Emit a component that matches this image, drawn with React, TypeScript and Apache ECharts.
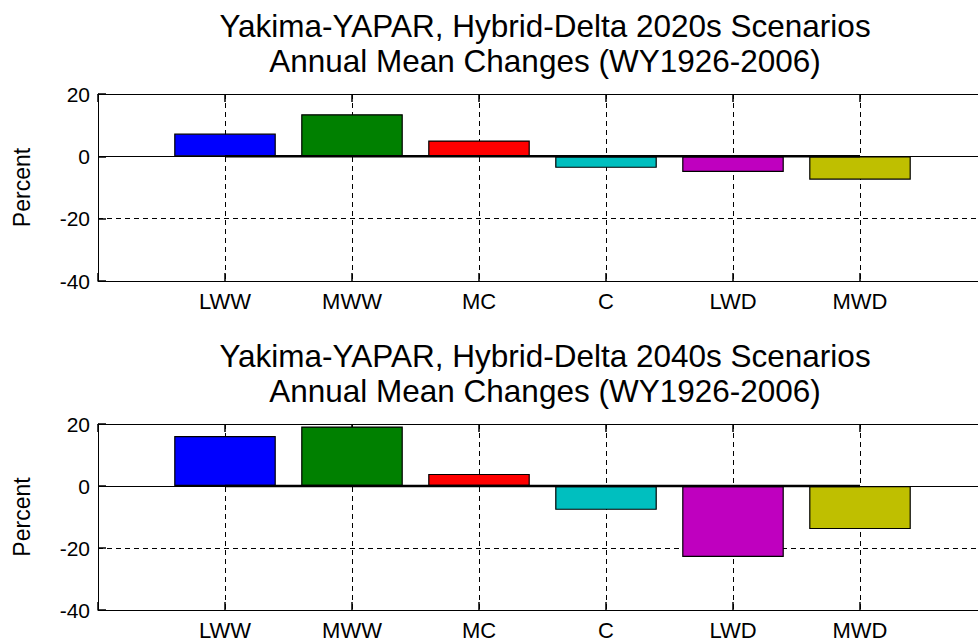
import React, { useEffect, useRef } from "react";
import * as echarts from "echarts";

const categories = ["LWW", "MWW", "MC", "C", "LWD", "MWD"];
const values2020s = [7.3, 13.5, 5.1, -3.7, -5.0, -7.5];
const values2040s = [16.1, 19.2, 3.9, -7.7, -22.9, -13.9];
const barColors = ["#0000ff", "#008000", "#ff0000", "#00bfbf", "#bf00bf", "#bfbf00"];
const titles = [
  "Yakima-YAPAR, Hybrid-Delta 2020s Scenarios\nAnnual Mean Changes (WY1926-2006)",
  "Yakima-YAPAR, Hybrid-Delta 2040s Scenarios\nAnnual Mean Changes (WY1926-2006)",
];
const yTicks = { min: -40, max: 20, interval: 20 };

const W = 978;
const H = 641;
const INNER_W = 1000;
const LEFT = 98;
const RIGHT = 13;
const gridWidth = INNER_W - LEFT - RIGHT;
const XMAX = 7;
const barWidth = (gridWidth / XMAX) * 0.8;
const FONT = "Liberation Sans, Arial, sans-serif";
const INK = "#000000";

const grids = [
  { left: LEFT, right: RIGHT, top: 94, height: 187 },
  { left: LEFT, right: RIGHT, top: 424, height: 188 },
];

export default function App() {
  const ref = useRef<HTMLDivElement>(null);
  useEffect(() => {
    if (!ref.current) return;
    const chart = echarts.init(ref.current, undefined, { renderer: "svg" });
    const dash = [5, 4];
    const xAxes: any[] = [];
    const yAxes: any[] = [];
    const series: any[] = [];
    const datasets = [values2020s, values2040s];
    grids.forEach((g, gi) => {
      const common = {
        type: "value",
        gridIndex: gi,
        min: 0,
        max: XMAX,
        interval: 1,
        axisLine: { show: true, onZero: false, lineStyle: { color: INK, width: 1 } },
        axisTick: { show: true, inside: true, length: 8, lineStyle: { color: INK, width: 1.5 } },
        splitLine: { show: false },
        splitArea: { show: false },
        minorTick: { show: false },
        minorSplitLine: { show: false },
      };
      xAxes.push({
        ...common,
        position: "bottom",
        axisLabel: {
          show: true,
          color: INK,
          fontFamily: FONT,
          fontSize: 22,
          margin: 9,
          formatter: (v: number) => (v >= 1 && v <= categories.length ? categories[v - 1] : ""),
        },
        splitLine: { show: true, lineStyle: { color: [INK], type: dash, width: 1 } },
      });
      xAxes.push({
        ...common,
        position: "top",
        axisLabel: { show: false },
      });
      yAxes.push({
        type: "value",
        gridIndex: gi,
        min: yTicks.min,
        max: yTicks.max,
        interval: yTicks.interval,
        position: "left",
        name: "Percent",
        nameLocation: "middle",
        nameGap: 65,
        nameTextStyle: { color: INK, fontFamily: FONT, fontSize: 23 },
        axisLine: { show: true, onZero: false, lineStyle: { color: INK, width: 1 } },
        axisTick: { show: true, inside: true, length: 8, lineStyle: { color: INK, width: 1.5 } },
        axisLabel: { color: INK, fontFamily: FONT, fontSize: 21, margin: 8 },
        splitLine: { show: true, lineStyle: { color: [INK], type: dash, width: 1 } },
      });
      const vals = datasets[gi];
      series.push({
        type: "bar",
        xAxisIndex: gi * 2,
        yAxisIndex: gi,
        barWidth,
        data: vals.map((v, i) => ({
          value: [i + 1, v],
          itemStyle: { color: barColors[i], borderColor: INK, borderWidth: 1.2 },
        })),
        markLine: {
          silent: true,
          symbol: "none",
          label: { show: false },
          lineStyle: { color: INK, type: "solid", width: 1.2 },
          data: [{ yAxis: 0 }],
        },
        z: 2,
      });
      series.push({
        type: "line",
        xAxisIndex: gi * 2,
        yAxisIndex: gi,
        symbol: "none",
        lineStyle: { color: INK, width: 2.5 },
        data: [
          [1, 0],
          [categories.length, 0],
        ],
        z: 3,
      });
    });
    chart.setOption({
      animation: false,
      backgroundColor: "#fff",
      title: titles.map((t, i) => ({
        text: t,
        left: 540,
        textAlign: "center",
        top: i === 0 ? 3 : 333,
        textStyle: {
          color: INK,
          fontFamily: FONT,
          fontSize: 31.5,
          fontWeight: "normal",
          lineHeight: 35,
        },
      })),
      grid: grids,
      xAxis: xAxes,
      yAxis: yAxes,
      series,
    });
    return () => chart.dispose();
  }, []);
  return (
    <div style={{ position: "absolute", left: 0, top: 0, width: W, height: H, overflow: "hidden", background: "#fff" }}>
      <div ref={ref} style={{ width: INNER_W, height: H }} />
    </div>
  );
}
